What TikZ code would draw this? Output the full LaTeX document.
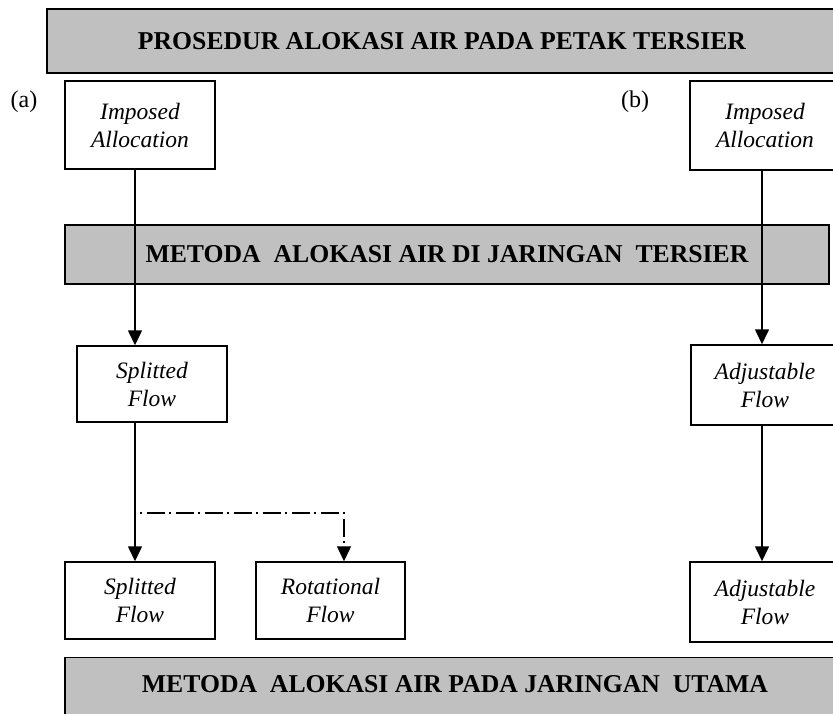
\documentclass[tikz,border=0pt]{standalone}
\usepackage{fontspec}
\setmainfont{Liberation Serif}
\usetikzlibrary{arrows.meta}
\definecolor{bannergray}{HTML}{C0C0C0}

\begin{document}
\begin{tikzpicture}[x=1pt, y=-1pt,
    banner/.style={draw, line width=1.3pt, fill=bannergray, inner sep=0pt,
        font=\fontsize{25.7}{30}\selectfont\bfseries},
    flowbox/.style={draw, line width=1.5pt, fill=white, align=center, inner sep=0pt,
        font=\fontsize{23.5}{28}\selectfont\itshape},
    tag/.style={font=\fontsize{24}{28}\selectfont},
    flow/.style={line width=1.6pt, -{Triangle[width=14pt,length=15pt]}},
    rotflow/.style={line width=1.4pt, dash pattern=on 2pt off 5pt on 18pt off 4pt,
        -{Triangle[width=14pt,length=15pt]}}]
    \useasboundingbox (0,0) rectangle (833,713);
    \clip (0,0) rectangle (833,713);

    % Top banner
    \node[banner, minimum width=790pt, minimum height=64pt] (prosedur) at (442,41)
        {PROSEDUR ALOKASI AIR PADA PETAK TERSIER};

    % Case labels
    \node[tag] (tagA) at (24,102) {(a)};
    \node[tag] (tagB) at (635,102) {(b)};

    % Imposed allocation
    \node[flowbox, minimum width=150pt, minimum height=88pt] (impA) at (140,125) {Imposed\\Allocation};
    \node[flowbox, minimum width=150pt, minimum height=89pt] (impB) at (765,125.5) {Imposed\\Allocation};

    % Tertiary network banner
    \node[banner, minimum width=764pt, minimum height=59pt] (tersier) at (447,254.5)
        {METODA\ \ ALOKASI AIR DI JARINGAN\ \ TERSIER};

    % Tertiary methods
    \node[flowbox, minimum width=150pt, minimum height=76pt] (splitA) at (152,384) {Splitted\\Flow};
    \node[flowbox, minimum width=148pt, minimum height=80pt] (adjA) at (765,385) {Adjustable\\Flow};

    % Main network methods
    \node[flowbox, minimum width=150pt, minimum height=77pt] (splitB) at (140,600.5) {Splitted\\Flow};
    \node[flowbox, minimum width=149pt, minimum height=77pt] (rotB) at (330.5,600.5) {Rotational\\Flow};
    \node[flowbox, minimum width=150pt, minimum height=80pt] (adjB) at (765,602) {Adjustable\\Flow};

    % Main network banner
    \node[banner, minimum width=780pt, anchor=north, text height=35pt, text depth=40pt] (utama) at (455,657)
        {METODA\ \ ALOKASI AIR PADA JARINGAN\ \ UTAMA};

    % Flows (a)
    \draw[flow] ([xshift=-5pt]impA.south) -- ([xshift=-17pt]splitA.north);
    \draw[flow] ([xshift=-17pt]splitA.south) -- ([xshift=-5pt]splitB.north);
    \coordinate (fork) at (140,513);
    \draw[rotflow] (fork) -| ([xshift=13.5pt]rotB.north);

    % Flows (b)
    \draw[flow] ([xshift=-3pt]impB.south) -- ([xshift=-3pt]adjA.north);
    \draw[flow] ([xshift=-3pt]adjA.south) -- ([xshift=-3pt]adjB.north);
\end{tikzpicture}
\end{document}
